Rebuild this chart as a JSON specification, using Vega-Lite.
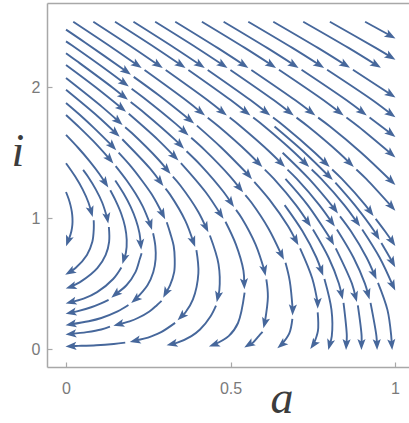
{
"$schema":"https://vega.github.io/schema/vega-lite/v6.json",
"width":362,"height":364,
"autosize":{"type":"none"},
"padding":{"left":47,"top":3,"right":0,"bottom":56},
"background":"white",
"config":{"view":{"stroke":null},"axis":{"grid":false,"domainColor":"#a8a8a8","domainWidth":1.5,"tickColor":"#a8a8a8","tickWidth":1.2,"tickSize":-5,"labelColor":"#7a7a7a","labelFont":"Liberation Sans","labelFontSize":16,"titleFont":"Liberation Serif","titleFontStyle":"italic","titleFontWeight":"normal","titleFontSize":46,"titleColor":"#3c3c3c"}},
"datasets":{
"lines":[
{"s":"T1a","a":0.022,"i":2.5},{"s":"T1a","a":0.1415,"i":2.3},{"s":"T1a","a":0.2162,"i":2.17},
{"s":"T1b","a":0.2387,"i":2.131},{"s":"T1b","a":0.3647,"i":1.9},{"s":"T1b","a":0.4095,"i":1.81},
{"s":"T1c","a":0.4308,"i":1.767},{"s":"T1c","a":0.4642,"i":1.7},{"s":"T1c","a":0.5536,"i":1.5},{"s":"T1c","a":0.585,"i":1.42},
{"s":"T1d","a":0.6042,"i":1.371},{"s":"T1d","a":0.6321,"i":1.3},{"s":"T1d","a":0.699,"i":1.1},{"s":"T1d","a":0.735,"i":0.97},
{"s":"T1e","a":0.7506,"i":0.914},{"s":"T1e","a":0.798,"i":0.7},{"s":"T1e","a":0.8296,"i":0.5},{"s":"T1e","a":0.8372,"i":0.42},
{"s":"T1f","a":0.8435,"i":0.353},{"s":"T1f","a":0.8535,"i":0.1},{"s":"T1f","a":0.852,"i":0.035},
{"s":"T2a","a":0.083,"i":2.5},{"s":"T2a","a":0.2045,"i":2.3},{"s":"T2a","a":0.2803,"i":2.17},
{"s":"T2b","a":0.303,"i":2.131},{"s":"T2b","a":0.4306,"i":1.9},{"s":"T2b","a":0.4759,"i":1.81},
{"s":"T2c","a":0.4975,"i":1.768},{"s":"T2c","a":0.5313,"i":1.7},{"s":"T2c","a":0.6219,"i":1.5},{"s":"T2c","a":0.6538,"i":1.42},
{"s":"T2d","a":0.6731,"i":1.371},{"s":"T2d","a":0.7016,"i":1.3},{"s":"T2d","a":0.7701,"i":1.1},{"s":"T2d","a":0.8074,"i":0.97},
{"s":"T2e","a":0.8234,"i":0.914},{"s":"T2e","a":0.8737,"i":0.7},{"s":"T2e","a":0.9086,"i":0.5},{"s":"T2e","a":0.9179,"i":0.42},
{"s":"T2f","a":0.9256,"i":0.354},{"s":"T2f","a":0.9435,"i":0.1},{"s":"T2f","a":0.945,"i":0.035},
{"s":"T3a","a":0.149,"i":2.5},{"s":"T3a","a":0.2725,"i":2.3},{"s":"T3a","a":0.3493,"i":2.17},
{"s":"T3b","a":0.372,"i":2.132},{"s":"T3b","a":0.5015,"i":1.9},{"s":"T3b","a":0.5473,"i":1.81},
{"s":"T3c","a":0.5689,"i":1.768},{"s":"T3c","a":0.6033,"i":1.7},{"s":"T3c","a":0.6948,"i":1.5},{"s":"T3c","a":0.7272,"i":1.42},
{"s":"T3d","a":0.7467,"i":1.372},{"s":"T3d","a":0.7759,"i":1.3},{"s":"T3d","a":0.8459,"i":1.1},{"s":"T3d","a":0.8841,"i":0.97},
{"s":"T3e","a":0.9003,"i":0.914},{"s":"T3e","a":0.9531,"i":0.7},{"s":"T3e","a":0.9935,"i":0.485},
{"s":"T4a","a":0.205,"i":2.5},{"s":"T4a","a":0.3302,"i":2.3},{"s":"T4a","a":0.4079,"i":2.17},
{"s":"T4b","a":0.4307,"i":2.132},{"s":"T4b","a":0.5615,"i":1.9},{"s":"T4b","a":0.6077,"i":1.81},
{"s":"T4c","a":0.6293,"i":1.768},{"s":"T4c","a":0.6642,"i":1.7},{"s":"T4c","a":0.7564,"i":1.5},{"s":"T4c","a":0.7893,"i":1.42},
{"s":"T4d","a":0.8089,"i":1.372},{"s":"T4d","a":0.8386,"i":1.3},{"s":"T4d","a":0.9097,"i":1.1},{"s":"T4d","a":0.9247,"i":1.05},
{"s":"T4e","a":0.9412,"i":0.995},{"s":"T4e","a":0.9697,"i":0.9},{"s":"T4e","a":0.9915,"i":0.822},
{"s":"T5a","a":0.271,"i":2.5},{"s":"T5a","a":0.398,"i":2.3},{"s":"T5a","a":0.4768,"i":2.17},
{"s":"T5b","a":0.4997,"i":2.132},{"s":"T5b","a":0.6322,"i":1.9},{"s":"T5b","a":0.6789,"i":1.81},
{"s":"T5c","a":0.7006,"i":1.768},{"s":"T5c","a":0.736,"i":1.7},{"s":"T5c","a":0.8297,"i":1.5},{"s":"T5c","a":0.8628,"i":1.42},
{"s":"T5d","a":0.8825,"i":1.372},{"s":"T5d","a":0.9125,"i":1.3},{"s":"T5d","a":0.9898,"i":1.088},
{"s":"T6a","a":0.332,"i":2.5},{"s":"T6a","a":0.4607,"i":2.3},{"s":"T6a","a":0.5403,"i":2.17},
{"s":"T6b","a":0.5633,"i":2.132},{"s":"T6b","a":0.6972,"i":1.9},{"s":"T6b","a":0.7446,"i":1.81},
{"s":"T6c","a":0.7664,"i":1.768},{"s":"T6c","a":0.8025,"i":1.7},{"s":"T6c","a":0.8975,"i":1.5},{"s":"T6c","a":0.9891,"i":1.282},
{"s":"T7a","a":0.413,"i":2.5},{"s":"T7a","a":0.5437,"i":2.3},{"s":"T7a","a":0.6243,"i":2.17},
{"s":"T7b","a":0.6473,"i":2.133},{"s":"T7b","a":0.783,"i":1.9},{"s":"T7b","a":0.8305,"i":1.81},
{"s":"T7c","a":0.8523,"i":1.769},{"s":"T7c","a":0.8885,"i":1.7},{"s":"T7c","a":0.9885,"i":1.491},
{"s":"T8a","a":0.479,"i":2.5},{"s":"T8a","a":0.6114,"i":2.3},{"s":"T8a","a":0.6928,"i":2.17},
{"s":"T8b","a":0.7159,"i":2.133},{"s":"T8b","a":0.8529,"i":1.9},{"s":"T8b","a":0.9008,"i":1.81},
{"s":"T8c","a":0.9227,"i":1.769},{"s":"T8c","a":0.988,"i":1.6455},
{"s":"T9a","a":0.554,"i":2.5},{"s":"T9a","a":0.6881,"i":2.3},{"s":"T9a","a":0.7704,"i":2.17},
{"s":"T9b","a":0.7936,"i":2.133},{"s":"T9b","a":0.9321,"i":1.9},{"s":"T9b","a":0.9877,"i":1.795},
{"s":"T10a","a":0.63,"i":2.5},{"s":"T10a","a":0.7658,"i":2.3},{"s":"T10a","a":0.8489,"i":2.17},
{"s":"T10b","a":0.8721,"i":2.134},{"s":"T10b","a":0.9873,"i":1.944},
{"s":"T11a","a":0.721,"i":2.5},{"s":"T11a","a":0.8588,"i":2.3},{"s":"T11a","a":0.9428,"i":2.17},
{"s":"T12a","a":0.802,"i":2.5},{"s":"T12a","a":0.9413,"i":2.3},{"s":"T12a","a":0.9869,"i":2.2315},
{"s":"T13a","a":0.909,"i":2.5},{"s":"T13a","a":0.9867,"i":2.393},
{"s":"G1a","a":0,"i":2.44},{"s":"G1a","a":0.0587,"i":2.34},{"s":"G1a","a":0.1838,"i":2.12},
{"s":"G1b","a":0.2058,"i":2.079},{"s":"G1b","a":0.2813,"i":1.94},{"s":"G1b","a":0.3764,"i":1.75},
{"s":"G1c","a":0.3978,"i":1.707},{"s":"G1c","a":0.4717,"i":1.54},{"s":"G1c","a":0.5545,"i":1.33},
{"s":"G1d","a":0.5722,"i":1.278},{"s":"G1d","a":0.6189,"i":1.14},{"s":"G1d","a":0.6746,"i":0.94},{"s":"G1d","a":0.6984,"i":0.83},
{"s":"G1e","a":0.7114,"i":0.77},{"s":"G1e","a":0.7485,"i":0.54},{"s":"G1e","a":0.765,"i":0.35},
{"s":"G1f","a":0.765,"i":0.281},{"s":"G1f","a":0.7657,"i":0.14},{"s":"G1f","a":0.752,"i":0.035},
{"s":"L2a","a":0,"i":2.35},{"s":"L2a","a":0.0176,"i":2.32},{"s":"L2a","a":0.1297,"i":2.12},{"s":"L2a","a":0.1775,"i":2.03},
{"s":"L2b","a":0.1994,"i":1.989},{"s":"L2b","a":0.2359,"i":1.92},{"s":"L2b","a":0.3338,"i":1.72},{"s":"L2b","a":0.3602,"i":1.66},
{"s":"L2c","a":0.3805,"i":1.614},{"s":"L2c","a":0.4218,"i":1.52},{"s":"L2c","a":0.4986,"i":1.32},{"s":"L2c","a":0.5278,"i":1.23},
{"s":"L2d","a":0.5451,"i":1.177},{"s":"L2d","a":0.5635,"i":1.12},{"s":"L2d","a":0.6157,"i":0.92},{"s":"L2d","a":0.6549,"i":0.72},
{"s":"L2e","a":0.6672,"i":0.659},{"s":"L2e","a":0.6801,"i":0.52},{"s":"L2e","a":0.689,"i":0.3},
{"s":"L2f","a":0.688,"i":0.231},{"s":"L2f","a":0.6786,"i":0.12},{"s":"L2f","a":0.655,"i":0.035},
{"s":"L3a","a":0,"i":2.26},{"s":"L3a","a":0.0328,"i":2.2},{"s":"L3a","a":0.1401,"i":2.0},{"s":"L3a","a":0.1751,"i":1.93},
{"s":"L3b","a":0.1965,"i":1.887},{"s":"L3b","a":0.2401,"i":1.8},{"s":"L3b","a":0.331,"i":1.6},{"s":"L3b","a":0.347,"i":1.56},
{"s":"L3c","a":0.3664,"i":1.511},{"s":"L3c","a":0.411,"i":1.4},{"s":"L3c","a":0.4791,"i":1.2},{"s":"L3c","a":0.5012,"i":1.12},
{"s":"L3d","a":0.5168,"i":1.064},{"s":"L3d","a":0.5344,"i":1.0},{"s":"L3d","a":0.576,"i":0.8},{"s":"L3d","a":0.603,"i":0.6},
{"s":"L3e","a":0.6089,"i":0.533},{"s":"L3e","a":0.6136,"i":0.4},{"s":"L3e","a":0.604,"i":0.2},
{"s":"L3f","a":0.5974,"i":0.133},{"s":"L3f","a":0.5858,"i":0.1},{"s":"L3f","a":0.5679,"i":0.05},{"s":"L3f","a":0.556,"i":0.035},
{"s":"L4a","a":0,"i":2.17},{"s":"L4a","a":0.0902,"i":2.0},{"s":"L4a","a":0.1694,"i":1.84},
{"s":"L4b","a":0.1907,"i":1.797},{"s":"L4b","a":0.2789,"i":1.6},{"s":"L4b","a":0.33,"i":1.47},
{"s":"L4c","a":0.3492,"i":1.421},{"s":"L4c","a":0.4242,"i":1.2},{"s":"L4c","a":0.4695,"i":1.03},
{"s":"L4d","a":0.4847,"i":0.973},{"s":"L4d","a":0.5163,"i":0.8},{"s":"L4d","a":0.5393,"i":0.6},{"s":"L4d","a":0.5416,"i":0.5},
{"s":"L4e","a":0.5428,"i":0.431},{"s":"L4e","a":0.5228,"i":0.2},{"s":"L4e","a":0.4943,"i":0.1},{"s":"L4e","a":0.45,"i":0.035},
{"s":"L5a","a":0,"i":2.07},{"s":"L5a","a":0.1095,"i":1.85},{"s":"L5a","a":0.1593,"i":1.74},
{"s":"L5b","a":0.1798,"i":1.695},{"s":"L5b","a":0.2001,"i":1.65},{"s":"L5b","a":0.28,"i":1.45},{"s":"L5b","a":0.307,"i":1.37},
{"s":"L5c","a":0.3247,"i":1.318},{"s":"L5c","a":0.3476,"i":1.25},{"s":"L5c","a":0.4018,"i":1.05},{"s":"L5c","a":0.4253,"i":0.93},
{"s":"L5d","a":0.4373,"i":0.868},{"s":"L5d","a":0.4635,"i":0.65},{"s":"L5d","a":0.466,"i":0.45},{"s":"L5d","a":0.4617,"i":0.4},
{"s":"L5e","a":0.4559,"i":0.333},{"s":"L5e","a":0.439,"i":0.25},{"s":"L5e","a":0.4072,"i":0.15},{"s":"L5e","a":0.3811,"i":0.1},{"s":"L5e","a":0.3384,"i":0.05},{"s":"L5e","a":0.322,"i":0.04},
{"s":"L6a","a":0,"i":1.98},{"s":"L6a","a":0.0952,"i":1.78},{"s":"L6a","a":0.1509,"i":1.65},
{"s":"L6b","a":0.171,"i":1.603},{"s":"L6b","a":0.2552,"i":1.38},{"s":"L6b","a":0.2858,"i":1.28},
{"s":"L6c","a":0.3025,"i":1.226},{"s":"L6c","a":0.3164,"i":1.18},{"s":"L6c","a":0.3628,"i":0.98},{"s":"L6c","a":0.3867,"i":0.82},
{"s":"L6d","a":0.3963,"i":0.756},{"s":"L6d","a":0.4023,"i":0.58},{"s":"L6d","a":0.3858,"i":0.38},{"s":"L6d","a":0.3628,"i":0.28},{"s":"L6d","a":0.3509,"i":0.25},
{"s":"L6e","a":0.3316,"i":0.201},{"s":"L6e","a":0.289,"i":0.13},{"s":"L6e","a":0.2614,"i":0.1},{"s":"L6e","a":0.2368,"i":0.08},{"s":"L6e","a":0.21,"i":0.065},
{"s":"L6f","a":0.18,"i":0.05},{"s":"L6f","a":0.145,"i":0.04},{"s":"L6f","a":0.092,"i":0.03},{"s":"L6f","a":0.037,"i":0.025},{"s":"L6f","a":0.015,"i":0.0235},
{"s":"L7a","a":0,"i":1.88},{"s":"L7a","a":0.0425,"i":1.788},{"s":"L7a","a":0.0855,"i":1.688},{"s":"L7a","a":0.1412,"i":1.55},
{"s":"L7b","a":0.1599,"i":1.5},{"s":"L7b","a":0.1998,"i":1.388},{"s":"L7b","a":0.2306,"i":1.288},{"s":"L7b","a":0.259,"i":1.188},{"s":"L7b","a":0.282,"i":1.088},{"s":"L7b","a":0.2938,"i":1.03},
{"s":"L7c","a":0.3062,"i":0.969},{"s":"L7c","a":0.3165,"i":0.888},{"s":"L7c","a":0.3273,"i":0.788},{"s":"L7c","a":0.3304,"i":0.688},{"s":"L7c","a":0.3287,"i":0.588},{"s":"L7c","a":0.316,"i":0.488},{"s":"L7c","a":0.3032,"i":0.43},
{"s":"L7d","a":0.2904,"i":0.369},{"s":"L7d","a":0.2769,"i":0.338},{"s":"L7d","a":0.2535,"i":0.288},{"s":"L7d","a":0.2183,"i":0.238},{"s":"L7d","a":0.1932,"i":0.213},{"s":"L7d","a":0.16,"i":0.19},
{"s":"L7e","a":0.1336,"i":0.172},{"s":"L7e","a":0.107,"i":0.15},{"s":"L7e","a":0.063,"i":0.13},{"s":"L7e","a":0.015,"i":0.116},
{"s":"L8a","a":0,"i":1.788},{"s":"L8a","a":0.0429,"i":1.688},{"s":"L8a","a":0.0831,"i":1.588},{"s":"L8a","a":0.1332,"i":1.45},
{"s":"L8b","a":0.1509,"i":1.398},{"s":"L8b","a":0.1846,"i":1.288},{"s":"L8b","a":0.2112,"i":1.188},{"s":"L8b","a":0.2336,"i":1.088},{"s":"L8b","a":0.2563,"i":0.95},
{"s":"L8c","a":0.2647,"i":0.885},{"s":"L8c","a":0.2715,"i":0.788},{"s":"L8c","a":0.2723,"i":0.688},{"s":"L8c","a":0.2651,"i":0.588},{"s":"L8c","a":0.2476,"i":0.488},{"s":"L8c","a":0.211,"i":0.38},
{"s":"L8d","a":0.1898,"i":0.337},{"s":"L8d","a":0.1568,"i":0.288},{"s":"L8d","a":0.1073,"i":0.238},{"s":"L8d","a":0.069,"i":0.213},{"s":"L8d","a":0.015,"i":0.19},
{"s":"L9a","a":0,"i":1.636},{"s":"L9a","a":0.0374,"i":1.536},{"s":"L9a","a":0.0715,"i":1.436},{"s":"L9a","a":0.102,"i":1.336},{"s":"L9a","a":0.1194,"i":1.27},
{"s":"L9b","a":0.1345,"i":1.213},{"s":"L9b","a":0.1504,"i":1.136},{"s":"L9b","a":0.1676,"i":1.036},{"s":"L9b","a":0.1793,"i":0.936},{"s":"L9b","a":0.1845,"i":0.836},{"s":"L9b","a":0.182,"i":0.736},{"s":"L9b","a":0.1763,"i":0.69},
{"s":"L9c","a":0.1682,"i":0.624},{"s":"L9c","a":0.1433,"i":0.536},{"s":"L9c","a":0.0945,"i":0.436},{"s":"L9c","a":0.0534,"i":0.386},{"s":"L9c","a":0.015,"i":0.36},
{"s":"Lxa","a":0.1497,"i":1.288},{"s":"Lxa","a":0.1751,"i":1.188},{"s":"Lxa","a":0.1962,"i":1.088},{"s":"Lxa","a":0.2123,"i":0.988},{"s":"Lxa","a":0.2231,"i":0.888},{"s":"Lxa","a":0.227,"i":0.8},
{"s":"Lxb","a":0.2297,"i":0.732},{"s":"Lxb","a":0.2242,"i":0.688},{"s":"Lxb","a":0.2111,"i":0.588},{"s":"Lxb","a":0.1838,"i":0.488},{"s":"Lxb","a":0.1506,"i":0.42},
{"s":"Lxc","a":0.1294,"i":0.377},{"s":"Lxc","a":0.1065,"i":0.35},{"s":"Lxc","a":0.0765,"i":0.32},{"s":"Lxc","a":0.036,"i":0.29},{"s":"Lxc","a":0.015,"i":0.279},
{"s":"Lma","a":0.052,"i":1.369},{"s":"Lma","a":0.066,"i":1.32},{"s":"Lma","a":0.0904,"i":1.22},{"s":"Lma","a":0.1099,"i":1.12},{"s":"Lma","a":0.1253,"i":1.0},
{"s":"Lmb","a":0.1303,"i":0.9325},{"s":"Lmb","a":0.131,"i":0.82},{"s":"Lmb","a":0.1206,"i":0.72},{"s":"Lmb","a":0.0958,"i":0.62},{"s":"Lmb","a":0.0746,"i":0.57},{"s":"Lmb","a":0.047,"i":0.52},{"s":"Lmb","a":0.015,"i":0.476},
{"s":"Ma","a":0,"i":1.42},{"s":"Ma","a":0.0275,"i":1.32},{"s":"Ma","a":0.0505,"i":1.22},{"s":"Ma","a":0.0682,"i":1.12},{"s":"Ma","a":0.0764,"i":1.05},
{"s":"Mb","a":0.0842,"i":0.984},{"s":"Mb","a":0.0844,"i":0.92},{"s":"Mb","a":0.08,"i":0.82},{"s":"Mb","a":0.0636,"i":0.72},{"s":"Mb","a":0.029,"i":0.62},{"s":"Mb","a":0.012,"i":0.59},
{"s":"M12","a":0,"i":1.2},{"s":"M12","a":0.0076,"i":1.15},{"s":"M12","a":0.0135,"i":1.1},{"s":"M12","a":0.0176,"i":1.05},{"s":"M12","a":0.0196,"i":1.0},{"s":"M12","a":0.0193,"i":0.95},{"s":"M12","a":0.0163,"i":0.9},{"s":"M12","a":0.0102,"i":0.85},{"s":"M12","a":0.006,"i":0.825},
{"s":"S1a","a":0.6669,"i":1.3},{"s":"S1a","a":0.7346,"i":1.1},{"s":"S1a","a":0.8067,"i":0.83},
{"s":"S1b","a":0.8199,"i":0.77},{"s":"S1b","a":0.8691,"i":0.5},{"s":"S1b","a":0.8797,"i":0.4},
{"s":"S1c","a":0.887,"i":0.334},{"s":"S1c","a":0.8985,"i":0.1},{"s":"S1c","a":0.898,"i":0.035},
{"s":"S2a","a":0.6584,"i":1.5},{"s":"S2a","a":0.7388,"i":1.3},{"s":"S2a","a":0.8167,"i":1.07},
{"s":"S2b","a":0.8328,"i":1.0145},{"s":"S2b","a":0.8661,"i":0.9},{"s":"S2b","a":0.9134,"i":0.7},{"s":"S2b","a":0.937,"i":0.57},
{"s":"S2c","a":0.9483,"i":0.507},{"s":"S2c","a":0.977,"i":0.3},{"s":"S2c","a":0.9885,"i":0.1},{"s":"S2c","a":0.99,"i":0.035},
{"s":"S3a","a":0.6645,"i":1.1},{"s":"S3a","a":0.7189,"i":0.9},{"s":"S3a","a":0.761,"i":0.7},{"s":"S3a","a":0.7759,"i":0.6},
{"s":"S3b","a":0.7855,"i":0.536},{"s":"S3b","a":0.8069,"i":0.3},{"s":"S3b","a":0.8078,"i":0.1},{"s":"S3b","a":0.8015,"i":0.035},
{"s":"S4a","a":0.6338,"i":1.7},{"s":"S4a","a":0.7256,"i":1.5},{"s":"S4a","a":0.7991,"i":1.32},
{"s":"S4b","a":0.8187,"i":1.272},{"s":"S4b","a":0.8778,"i":1.1},{"s":"S4b","a":0.9372,"i":0.9},{"s":"S4b","a":0.9444,"i":0.87},
{"s":"S4c","a":0.9585,"i":0.811},{"s":"S4c","a":0.9926,"i":0.663}
],
"arrows":[
{"a":0.2162,"i":2.17,"d":34.7},{"a":0.4095,"i":1.81,"d":38.7},{"a":0.585,"i":1.42,"d":45.4},{"a":0.735,"i":0.97,"d":55.2},{"a":0.8372,"i":0.42,"d":76.6},{"a":0.852,"i":0.035,"d":93},
{"a":0.2803,"i":2.17,"d":34.3},{"a":0.4759,"i":1.81,"d":38.5},{"a":0.6538,"i":1.42,"d":44.9},{"a":0.8074,"i":0.97,"d":54.2},{"a":0.9179,"i":0.42,"d":73.7},{"a":0.945,"i":0.035,"d":88},
{"a":0.3493,"i":2.17,"d":34},{"a":0.5473,"i":1.81,"d":38},{"a":0.7272,"i":1.42,"d":44.5},{"a":0.8841,"i":0.97,"d":53.6},{"a":0.9935,"i":0.485,"d":64.5},
{"a":0.4079,"i":2.17,"d":33.7},{"a":0.6077,"i":1.81,"d":37.8},{"a":0.7893,"i":1.42,"d":44.1},{"a":0.9247,"i":1.05,"d":53},{"a":0.9915,"i":0.822,"d":55.8},
{"a":0.4768,"i":2.17,"d":33.3},{"a":0.6789,"i":1.81,"d":37.5},{"a":0.8628,"i":1.42,"d":43.9},{"a":0.9898,"i":1.088,"d":47.9},
{"a":0.5403,"i":2.17,"d":33.1},{"a":0.7446,"i":1.81,"d":37.1},{"a":0.9891,"i":1.282,"d":44},
{"a":0.6243,"i":2.17,"d":32.7},{"a":0.8305,"i":1.81,"d":37},{"a":0.9885,"i":1.491,"d":40.9},
{"a":0.6928,"i":2.17,"d":32.5},{"a":0.9008,"i":1.81,"d":36.8},{"a":0.988,"i":1.6455,"d":38},
{"a":0.7704,"i":2.17,"d":32.2},{"a":0.9877,"i":1.795,"d":35.9},
{"a":0.8489,"i":2.17,"d":31.9},{"a":0.9873,"i":1.944,"d":33.6},
{"a":0.9428,"i":2.17,"d":31.6},
{"a":0.9869,"i":2.2315,"d":30.7},
{"a":0.9867,"i":2.393,"d":28.6},
{"a":0.1838,"i":2.12,"d":36.4},{"a":0.3764,"i":1.75,"d":38.5},{"a":0.5545,"i":1.33,"d":49.6},{"a":0.6984,"i":0.83,"d":61.5},{"a":0.765,"i":0.35,"d":90},{"a":0.752,"i":0.035,"d":125},
{"a":0.1775,"i":2.03,"d":36.9},{"a":0.3602,"i":1.66,"d":42.2},{"a":0.5278,"i":1.23,"d":50.9},{"a":0.6549,"i":0.72,"d":63.3},{"a":0.689,"i":0.3,"d":92},{"a":0.655,"i":0.035,"d":140},
{"a":0.1751,"i":1.93,"d":38.5},{"a":0.347,"i":1.56,"d":44.9},{"a":0.5012,"i":1.12,"d":55.2},{"a":0.603,"i":0.6,"d":77.5},{"a":0.604,"i":0.2,"d":104},{"a":0.556,"i":0.035,"d":148},
{"a":0.1694,"i":1.84,"d":38.8},{"a":0.33,"i":1.47,"d":45.3},{"a":0.4695,"i":1.03,"d":56.3},{"a":0.5416,"i":0.5,"d":87.4},{"a":0.45,"i":0.035,"d":160},
{"a":0.1593,"i":1.74,"d":41.3},{"a":0.307,"i":1.37,"d":49.7},{"a":0.4253,"i":0.93,"d":63.9},{"a":0.4617,"i":0.4,"d":102.3},{"a":0.322,"i":0.04,"d":167},
{"a":0.1509,"i":1.65,"d":42.9},{"a":0.2858,"i":1.28,"d":52.5},{"a":0.3867,"i":0.82,"d":69.4},{"a":0.3509,"i":0.25,"d":135},{"a":0.21,"i":0.065,"d":166.8},{"a":0.015,"i":0.0235,"d":177},
{"a":0.1412,"i":1.55,"d":46.8},{"a":0.2938,"i":1.03,"d":63},{"a":0.3032,"i":0.43,"d":118},{"a":0.16,"i":0.19,"d":164.5},{"a":0.015,"i":0.116,"d":174},
{"a":0.1332,"i":1.45,"d":49.6},{"a":0.2563,"i":0.95,"d":72.1},{"a":0.211,"i":0.38,"d":140.8},{"a":0.015,"i":0.19,"d":170},
{"a":0.1194,"i":1.27,"d":56.4},{"a":0.1763,"i":0.69,"d":107.2},{"a":0.015,"i":0.36,"d":165},
{"a":0.227,"i":0.8,"d":84.3},{"a":0.1506,"i":0.42,"d":140.8},{"a":0.015,"i":0.279,"d":168},
{"a":0.1253,"i":1.0,"d":79.5},{"a":0.015,"i":0.476,"d":161.6},
{"a":0.0764,"i":1.05,"d":73.4},{"a":0.012,"i":0.59,"d":150},
{"a":0.006,"i":0.825,"d":110},
{"a":0.8067,"i":0.83,"d":61.2},{"a":0.8797,"i":0.4,"d":74.6},{"a":0.898,"i":0.035,"d":90},
{"a":0.8167,"i":1.07,"d":53.9},{"a":0.937,"i":0.57,"d":65.7},{"a":0.99,"i":0.035,"d":85},
{"a":0.7759,"i":0.6,"d":69.4},{"a":0.8015,"i":0.035,"d":105},
{"a":0.7991,"i":1.32,"d":44.2},{"a":0.9444,"i":0.87,"d":58.9},{"a":0.9926,"i":0.663,"d":61}
]
},
"resolve":{"axis":{"x":"independent"}},
"layer":[
{"data":{"name":"lines"},
"mark":{"type":"line","color":"#46679b","strokeWidth":1.9,"interpolate":"catmull-rom","strokeCap":"butt"},
"encoding":{
"x":{"field":"a","type":"quantitative","scale":{"domain":[-0.0578,1.0425],"nice":false,"zero":false},"axis":{"orient":"bottom","values":[0,0.5,1],"format":"~g","labelPadding":18,"title":"a","titleX":234.5,"titleY":45,"titleAlign":"center","titleBaseline":"alphabetic"}},
"y":{"field":"i","type":"quantitative","scale":{"domain":[-0.136,2.643],"nice":false,"zero":false},"axis":{"values":[0,1,2],"format":"~g","labelPadding":12,"title":"i","titleAngle":0,"titleX":-29.5,"titleY":162,"titleAlign":"center","titleBaseline":"alphabetic"}},
"detail":{"field":"s"},
"order":{"value":null}
}},
{"data":{"name":"arrows"},
"mark":{"type":"point","shape":"M1,0L-1,-0.74L-0.55,0L-1,0.74Z","filled":true,"size":121,"color":"#46679b","opacity":1,"strokeWidth":0},
"encoding":{
"x":{"field":"a","type":"quantitative","scale":{"domain":[-0.0578,1.0425],"nice":false,"zero":false},"axis":{"orient":"top","labels":false,"ticks":false,"title":null}},
"y":{"field":"i","type":"quantitative","scale":{"domain":[-0.136,2.643],"nice":false,"zero":false}},
"angle":{"field":"d","type":"quantitative","scale":null}
}}
]
}
